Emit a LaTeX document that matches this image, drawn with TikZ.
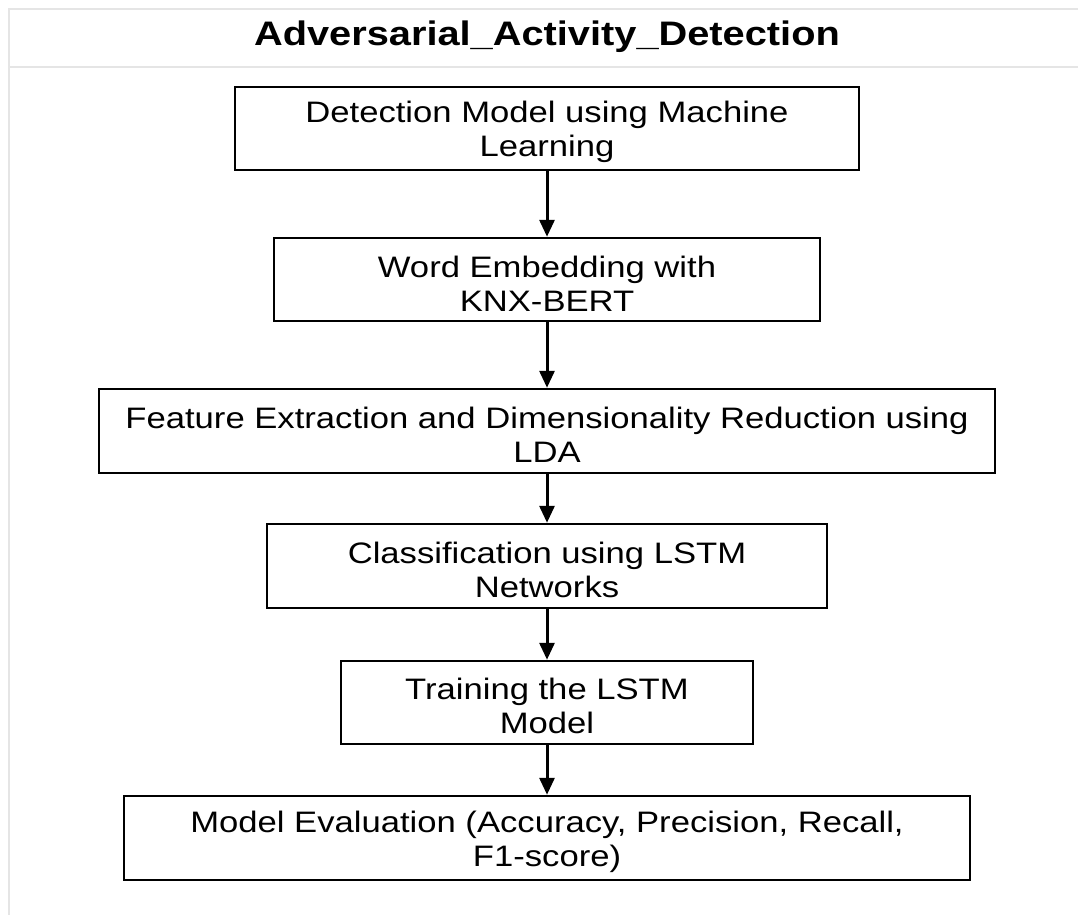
\documentclass[tikz,border=0pt]{standalone}
\usepackage{fontspec}
\setmainfont{Liberation Sans}[FakeStretch=1.17]
\usetikzlibrary{arrows.meta}

\tikzset{
  stage/.style={draw,line width=2.5pt,align=center,inner sep=0pt,
    font=\fontsize{29.6}{34}\selectfont,
    text height=63pt},
  flow/.style={line width=3pt,-{Triangle[length=17pt,width=15pt]}}
}

\begin{document}
\begin{tikzpicture}[x=1pt,y=-1pt]

\useasboundingbox(0,0)rectangle(1078,915);

\draw[black!10,line width=2pt](1078,9)--(9,9)--(9,915);
\draw[black!10,line width=2pt](9,67)--(1078,67);

\node[font=\bfseries\fontsize{34}{40}\selectfont] (title) at (547,37) {Adversarial\_Activity\_Detection};

\node[stage,minimum width=624pt,minimum height=83pt] (detect) at (547,128.5) {Detection Model using Machine\\Learning};
\node[stage,minimum width=546pt,minimum height=83pt] (embed) at (547,279.5) {Word Embedding with\\KNX-BERT};
\node[stage,minimum width=896pt,minimum height=84pt] (lda) at (547,431) {Feature Extraction and Dimensionality Reduction using\\LDA};
\node[stage,minimum width=560pt,minimum height=84pt] (lstm) at (547,566) {Classification using LSTM\\Networks};
\node[stage,minimum width=412pt,minimum height=83pt] (train) at (547,702.5) {Training the LSTM\\Model};
\node[stage,minimum width=846pt,minimum height=84pt] (eval) at (547,838) {Model Evaluation (Accuracy, Precision, Recall,\\F1-score)};

\foreach \a/\b in {detect/embed,embed/lda,lda/lstm,lstm/train,train/eval}
	\draw[flow](\a)--(\b);

\end{tikzpicture}
\end{document}
